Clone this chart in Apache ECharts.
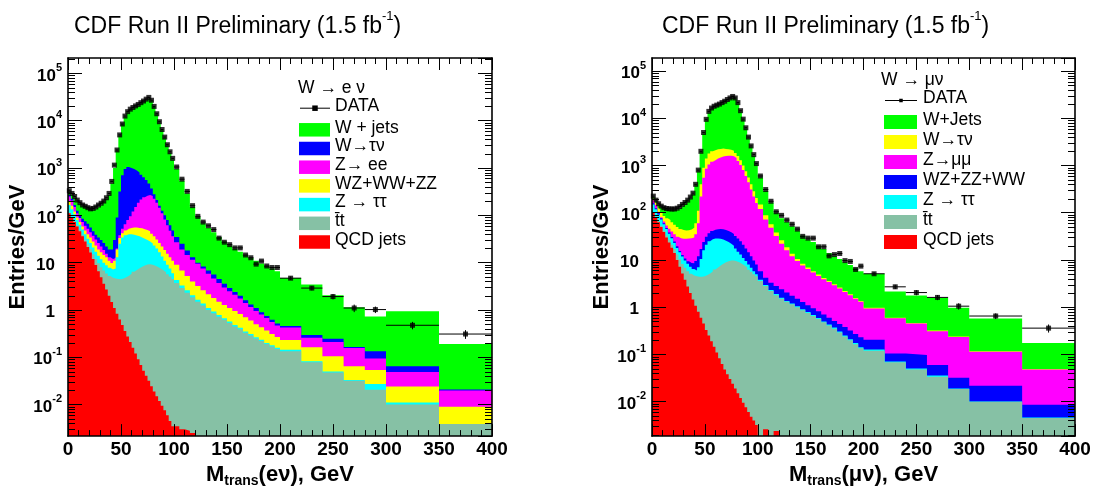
<!DOCTYPE html>
<html><head><meta charset="utf-8">
<script src="https://cdn.jsdelivr.net/npm/echarts@6/dist/echarts.min.js"></script>
<style>html,body{margin:0;padding:0;background:#fff}#c{width:1096px;height:493px}</style>
</head><body><div id="c"></div>
<script>
// ---------- bin edges (GeV), shared by both panels ----------
const binEdges = [0,2.5,5,7.5,10,12.5,15,17.5,20,22.5,25,27.5,30,32.5,35,37.5,40,42.5,45,47.5,50,52.5,55,57.5,60,62.5,65,67.5,70,72.5,75,77.5,80,82.5,85,87.5,90,92.5,95,97.5,100,
 105,110,115,120,125,130,135,140,145,150,155,160,165,170,175,180,185,190,195,200,220,240,260,280,300,350,400];
const xTicks = [0,50,100,150,200,250,300,350,400];

// ---------- W -> e nu panel: Entries/GeV per bin ----------
// MC arrays are stacked heights (each includes every process drawn beneath it)
const eData = [330,290,250,210,185,165,155,145,137,140,150,165,180,200,235,290,520,1150,2400,5000,8500,12500,15500,17500,19000,20500,22000,24000,26000,28500,31000,27000,20000,14000,9500,6500,4500,3100,2200,1600,
 1050,580,320,160,95,72,60,50,33,27,24,20.5,20.5,14.5,12.7,9.3,10.8,8.5,7.9,7.9, 4.7,2.9,1.92,1.1,1.02,0.475,0.31];
const eDataErr = [0.4,0.3,0.25,0.2,0.16,0.085,0.065]; // last 7 bins
const eWjets = [310,270,235,200,175,158,148,138,130,133,142,155,170,190,220,270,470,1000,2300,4800,8300,12000,15000,17000,18500,20000,21500,23500,25500,28000,30000,26500,19500,13500,9200,6300,4300,3000,2100,1500,
 950,540,290,150,92,68,54,44,35,28,23,19.5,17,14.5,12.5,11,9.6,8.5,7.5,6.6, 4.73,3.44,2.04,1.135,0.73,0.94,0.192];
const eWtaunu = [270,225,165,125,100,85,75,66,55,46,39,34,30,26,22,19,19,30,90,320,700,950,1050,1000,950,880,800,720,640,560,470,370,280,210,160,125,100,80,62,48,
 35,25,18,13,10,8.3,6.8,5.6,4.5,3.6,2.9,2.4,2.0,1.6,1.3,1.1,0.9,0.75,0.62,0.52, 0.46,0.295,0.248,0.165,0.134,0.065,0.021];
const eZee = [250,205,150,110,88,72,60,52,44,37,31,26,22,18.5,15.5,13,12,12.5,20,38,52,65,80,95,120,150,185,215,240,260,270,255,225,185,145,110,82,62,47,36,
 27,19,14.5,11.5,9.5,7.5,5.8,4.6,3.7,3.0,2.5,2.1,1.75,1.4,1.15,0.95,0.8,0.68,0.56,0.47, 0.425,0.26,0.211,0.157,0.094,0.049,0.02];
const eDiboson = [190,160,120,90,72,58,48,40,34,28,23,19,16.5,14.5,13,11,9.8,11,19,33,42,48,52,54,55,55,54,53,51,49,46,41,36,31,26,22,18.5,15.5,13,11,
 9,6.8,5.2,4.0,3.2,2.6,2.15,1.8,1.5,1.28,1.1,0.95,0.82,0.7,0.6,0.5,0.43,0.37,0.31,0.27, 0.233,0.164,0.105,0.065,0.054,0.0241,0.009];
const eZtautau = [165,135,105,80,63,50,40,32,26,21,17,14,11.8,10,8.8,7.8,7.2,7.5,13,25,34,38,40,40,39,37.5,36,34,32,30,28,25.5,23,20,16.5,13.5,11,9,7.5,6,
 4.3,3.3,2.6,2.05,1.65,1.37,1.1,0.93,0.78,0.67,0.57,0.48,0.42,0.35,0.31,0.265,0.235,0.2,0.18,0.16, 0.145,0.083,0.05,0.033,0.0273,0.0111,0.0039];
const eTtbar = [113,92,75,61,49,39,31,24.5,19.3,15,12,9.7,8.0,6.8,5.9,5.2,4.8,4.6,4.5,4.45,4.6,4.9,5.3,5.8,6.4,7.0,7.6,8.2,8.7,9.1,9.2,9.0,8.6,8.1,7.5,6.9,6.3,5.7,5.1,4.5,
 3.7,2.9,2.3,1.85,1.5,1.25,1.0,0.85,0.72,0.62,0.53,0.45,0.39,0.33,0.29,0.25,0.22,0.19,0.17,0.15, 0.134,0.079,0.048,0.032,0.0206,0.0101,0.0039];
const eQcd = [110,89,72,58,46,36,28,21.5,16.3,12,8.9,6.6,4.9,3.6,2.7,2.0,1.48,1.1,0.83,0.63,0.48,0.36,0.275,0.21,0.16,0.12,0.091,0.069,0.052,0.041,0.032,0.0245,0.019,0.015,0.012,0.0095,0.0076,0.006,0.0045,0.0035,
 0.0035,0.003,0.0028,0.0025,0,0,0,0,0,0,0,0,0,0,0,0,0,0,0,0, 0,0,0,0,0,0,0];

// ---------- W -> mu nu panel ----------
const mData = [225,185,155,138,128,123,121,120,120,125,135,150,165,185,215,260,400,800,2000,5000,9500,14000,16500,18000,19000,20000,21500,23000,25000,27000,29000,27000,21500,14500,9600,6300,4000,2600,1700,1100,
 600,310,175,105,88,70,57,45,31.6,29,29,19,19,12.2,13,13.7,9.7,9.3,6.3,7.4, 5.1,2.7,2.04,1.61,1.05,0.65,0.36];
const mDataErr = [0.4,0.28,0.25,0.2,0.16,0.09,0.07];
const mWjets = [215,178,148,132,122,117,115,114,114,118,127,140,155,175,200,245,380,760,1900,4700,9000,13300,15800,17300,18300,19300,20700,22200,24000,26000,28000,26000,20500,14000,9200,6000,3800,2500,1600,1050,
 560,290,165,100,76,64,52,42,33,27,24,20,17,14,12,10.5,9,7.8,6.7,5.8, 5.1,2.14,1.77,1.56,0.97,0.575,0.175];
const mWtaunu = [200,165,125,100,85,76,70,63,56,50,45,43,42,42.5,44,48,60,110,400,900,1400,1800,2000,2100,2200,2250,2280,2250,2200,2150,2050,1850,1600,1300,1000,760,560,400,285,205,
 150,88,57,38,26,18.5,13.5,10.5,8.3,6.9,5.8,4.9,4.15,3.6,3.05,2.6,2.2,1.88,1.56,1.35, 0.97,0.6,0.46,0.32,0.24,0.117,0.049];
const mZmumu = [185,145,105,80,65,54,46,40,35,31,29,28,28,28.5,29,30,35,60,220,550,850,1050,1200,1300,1400,1480,1550,1600,1620,1620,1580,1450,1250,1020,800,600,440,310,220,160,
 120,72,48,32,22,16,12,9.5,7.6,6.4,5.4,4.6,3.9,3.4,2.9,2.5,2.1,1.8,1.5,1.3, 0.94,0.58,0.45,0.31,0.233,0.114,0.048];
const mDiboson = [158,125,97,76,60,47.5,38,30.5,24.5,19.5,15.5,12.8,10.8,9.4,8.6,8.5,9.5,12,17,24,31,37,41,43.5,44.5,45,44.5,43,41,38.5,35.5,32,28.5,25,21,17.5,14.5,12,9.8,8,
 5.8,4.2,3.3,2.8,2.4,2.05,1.75,1.5,1.28,1.1,0.95,0.82,0.7,0.6,0.51,0.44,0.38,0.32,0.27,0.23, 0.205,0.105,0.097,0.06,0.032,0.0216,0.0086];
const mZtautau = [150,118,92,72,57,45,36,29,23,18,14.5,11.8,9.8,8.3,7.2,6.4,6.0,7.0,10.5,16,21,25,27.5,28.5,28.5,28,27,25.5,24,22,20,17.5,15,13,11,9.5,8,6.8,5.8,5.0,
 3.8,2.95,2.3,1.9,1.58,1.36,1.2,1.05,0.9,0.79,0.68,0.59,0.5,0.43,0.37,0.305,0.25,0.21,0.175,0.142, 0.127,0.071,0.05,0.0358,0.019,0.0101,0.0046];
const mTtbar = [103,82,66,53,42,33,26.5,21,17,13,10.2,8.2,6.8,5.8,5.1,4.7,4.5,4.4,4.4,4.5,4.8,5.2,5.7,6.3,6.9,7.6,8.3,8.9,9.4,9.7,9.7,9.4,8.9,8.3,7.6,6.9,6.2,5.6,5.0,4.5,
 3.6,2.8,2.2,1.8,1.5,1.3,1.15,1.0,0.86,0.75,0.65,0.56,0.48,0.41,0.35,0.29,0.24,0.2,0.165,0.135, 0.12,0.068,0.048,0.0336,0.0185,0.0099,0.0045];
const mQcd = [100,79,63,50,39,30,23.4,18.2,14.1,10,7.2,5.2,3.8,2.75,2.0,1.45,1.07,0.8,0.6,0.45,0.33,0.25,0.19,0.145,0.11,0.083,0.063,0.048,0.038,0.03,0.024,0.019,0.015,0.012,0.0095,0.0076,0.006,0.0048,0.004,0.0032,
 0,0.0026,0,0.0024,0,0,0,0,0,0,0,0,0,0,0,0,0,0,0,0, 0,0,0,0,0,0,0];

// ---------- legends ----------
const eLegend = ['W + jets','W\u2192\u03c4\u03bd','Z\u2192 ee','WZ+WW+ZZ','Z \u2192 \u03c4\u03c4','t\u0304t','QCD jets'];
const mLegend = ['W+Jets','W\u2192\u03c4\u03bd','Z\u2192\u03bc\u03bc','WZ+ZZ+WW','Z \u2192 \u03c4\u03c4','t\u0304t','QCD jets'];

const C = {green:'#00ff00', blue:'#0000ff', mag:'#ff00ff', yel:'#ffff00', cyan:'#00ffff', tt:'#86c1a5', red:'#ff0000'};
const FONT = '"Liberation Sans", Arial, Helvetica, sans-serif';

const panels = [
  {grid:{left:68, top:58, width:424, height:387}, ymin:Math.pow(10,-2.665), ymax:Math.pow(10,5.324),
   data:eData, err:eDataErr,
   stack:[[eWjets,C.green],[eWtaunu,C.blue],[eZee,C.mag],[eDiboson,C.yel],[eZtautau,C.cyan],[eTtbar,C.tt],[eQcd,C.red]],
   legend:eLegend, xname:'{m|M}{sub|trans}{m|(e\u03bd), GeV}'},
  {grid:{left:652, top:58, width:423, height:387}, ymin:Math.pow(10,-2.73), ymax:Math.pow(10,5.277),
   data:mData, err:mDataErr,
   stack:[[mWjets,C.green],[mWtaunu,C.yel],[mZmumu,C.mag],[mDiboson,C.blue],[mZtautau,C.cyan],[mTtbar,C.tt],[mQcd,C.red]],
   legend:mLegend, xname:'{m|M}{sub|trans}{m|(\u03bc\u03bd), GeV}'}
];

function hist(arr){
  const pts = [];
  for (let i = 0; i < arr.length; i++) pts.push([binEdges[i], arr[i] > 0 ? arr[i] : 1e-9]);
  const last = arr[arr.length-1];
  pts.push([binEdges[arr.length], last > 0 ? last : 1e-9]);
  return pts;
}

const minorVals = [];
for (let e = -3; e <= 5; e++) for (let k = 2; k <= 9; k++) minorVals.push(k*Math.pow(10,e));

const AXW = 1.6;
const grids=[], xAxes=[], yAxes=[], series=[];
panels.forEach((p, gi) => {
  grids.push(p.grid);
  const xb = {gridIndex:gi, type:'value', min:0, max:400, interval:50, z:10,
    axisLine:{show:true, onZero:false, lineStyle:{color:'#000', width:AXW}},
    axisTick:{show:true, inside:true, length:12, lineStyle:{color:'#000'}},
    minorTick:{show:true, splitNumber:5, length:6, lineStyle:{color:'#000'}},
    splitLine:{show:false},
    axisLabel:{show:true, margin:4, color:'#000', fontSize:19, fontWeight:'bold', fontFamily:FONT},
    name:p.xname, nameLocation:'middle', nameGap:21,
    nameTextStyle:{color:'#000', rich:{
      m:{fontSize:22, fontWeight:'bold', fontFamily:FONT, color:'#000', lineHeight:24, verticalAlign:'top'},
      sub:{fontSize:14, fontWeight:'bold', fontFamily:FONT, color:'#000', lineHeight:14, verticalAlign:'bottom'}}}};
  xAxes.push(xb);
  xAxes.push({gridIndex:gi, type:'value', position:'top', min:0, max:400, interval:50, z:10,
    axisLine:{show:true, onZero:false, lineStyle:{color:'#000', width:AXW}},
    axisTick:{show:true, inside:true, length:12, lineStyle:{color:'#000'}},
    minorTick:{show:true, splitNumber:5, length:6, lineStyle:{color:'#000'}},
    splitLine:{show:false}, axisLabel:{show:false}});
  yAxes.push({gridIndex:gi, type:'log', logBase:10, min:p.ymin, max:p.ymax, splitNumber:8, z:10,
    axisLine:{show:true, onZero:false, lineStyle:{color:'#000', width:AXW}},
    axisTick:{show:true, inside:true, length:14, lineStyle:{color:'#000'}},
    splitLine:{show:false},
    axisLabel:{show:true, margin:6, color:'#000', showMinLabel:false, showMaxLabel:false,
      formatter:(v)=>{ const l=Math.log10(v); const e=Math.round(l); if (Math.abs(l-e)>1e-4) return '';
        if (e===0) return '{b|1}{p|}'; if (e===1) return '{b|10}{p|}'; return '{b|10}{s|'+e+'}'; },
      rich:{ b:{fontSize:17, fontWeight:'bold', fontFamily:FONT, color:'#000', lineHeight:22, verticalAlign:'bottom'},
             s:{fontSize:11, fontWeight:'bold', fontFamily:FONT, color:'#000', lineHeight:11, verticalAlign:'top'},
             p:{width:7} }},
    name:'Entries/GeV', nameLocation:'middle', nameRotate:90, nameGap:36,
    nameTextStyle:{color:'#000', fontSize:22, fontWeight:'bold', fontFamily:FONT}});
  yAxes.push({gridIndex:gi, type:'log', logBase:10, min:p.ymin, max:p.ymax, splitNumber:8, position:'right', z:10,
    axisLine:{show:true, onZero:false, lineStyle:{color:'#000', width:AXW}},
    axisTick:{show:true, inside:true, length:14, lineStyle:{color:'#000'}},
    splitLine:{show:false}, axisLabel:{show:false}});

  const xi = gi*2, yi = gi*2;
  p.stack.forEach(([arr,col], si) => {
    series.push({type:'line', name:p.legend[si], xAxisIndex:xi, yAxisIndex:yi, step:'end', data:hist(arr),
      symbol:'none', silent:true, clip:true, z:2+si*0.01, animation:false,
      lineStyle:{width:0, opacity:0}, itemStyle:{color:col},
      areaStyle:{color:col, opacity:1, origin:'start'}});
  });
  // error bars
  const n = p.data.length, nErr = p.err.length;
  const eb = p.data.map((v,i)=>[binEdges[i], binEdges[i+1], v, i >= n-nErr ? p.err[i-(n-nErr)] : 0]);
  series.push({type:'custom', xAxisIndex:xi, yAxisIndex:yi, silent:true, z:5, animation:false,
    encode:{x:[0,1], y:2}, data:eb,
    renderItem:(params, api)=>{
      const lo=api.value(0), hi=api.value(1), v=api.value(2), er=api.value(3);
      const a=api.coord([lo,v]), b=api.coord([hi,v]);
      const kids=[{type:'line', shape:{x1:a[0], y1:a[1], x2:b[0], y2:b[1]}, style:{stroke:'#000', lineWidth:1}}];
      if (er>0){ const cx=(lo+hi)/2; const t=api.coord([cx,v+er]), u=api.coord([cx,v-er]);
        kids.push({type:'line', shape:{x1:t[0], y1:t[1], x2:u[0], y2:u[1]}, style:{stroke:'#000', lineWidth:1}}); }
      return {type:'group', children:kids};
    }});
  series.push({type:'scatter', name:'DATA', xAxisIndex:xi, yAxisIndex:yi, silent:true, z:6, animation:false,
    symbol:'rect', symbolSize:5, itemStyle:{color:'#000'},
    data:p.data.map((v,i)=>[(binEdges[i]+binEdges[i+1])/2, v])});
  // log minor ticks (2..9 x 10^k) on left and right frame
  series.push({type:'custom', xAxisIndex:xi, yAxisIndex:yi, silent:true, z:11, animation:false,
    encode:{x:0, y:1},
    data:minorVals.filter(v=>v>p.ymin && v<p.ymax).map(v=>[0,v]),
    renderItem:(params, api)=>{
      const v=api.value(1); const a=api.coord([0,v]), b=api.coord([400,v]);
      const y=Math.round(a[1])+0.5;
      return {type:'group', children:[
        {type:'line', shape:{x1:a[0], y1:y, x2:a[0]+7, y2:y}, style:{stroke:'#000', lineWidth:1}},
        {type:'line', shape:{x1:b[0]-7, y1:y, x2:b[0], y2:y}, style:{stroke:'#000', lineWidth:1}}]};
    }});
});

// legend drawn as graphic elements
const graphics = [];
function legendBlock(header, hx, hy, dataY, lineX0, lineX1, mk, boxX, boxW, boxH, y0, dy, textX, labels, cols){
  graphics.push({type:'text', left:hx, top:hy-11, z:100, style:{text:header, font:'17.5px '+FONT, fill:'#000'}});
  graphics.push({type:'line', z:100, shape:{x1:lineX0, y1:dataY+0.5, x2:lineX1, y2:dataY+0.5}, style:{stroke:'#000', lineWidth:1}});
  const cx=(lineX0+lineX1)/2;
  graphics.push({type:'rect', z:100, shape:{x:cx-mk/2, y:dataY+0.5-mk/2, width:mk, height:mk}, style:{fill:'#000'}});
  graphics.push({type:'text', left:textX, top:dataY-11, z:100, style:{text:'DATA', font:'17.5px '+FONT, fill:'#000'}});
  labels.forEach((t,i)=>{
    const yc = y0 + i*dy;
    graphics.push({type:'rect', z:100, shape:{x:boxX, y:yc-boxH/2, width:boxW, height:boxH}, style:{fill:cols[i]}});
    graphics.push({type:'text', left:textX, top:yc-11, z:100, style:{text:t, font:'17.5px '+FONT, fill:'#000'}});
  });
}
legendBlock('W \u2192 e \u03bd', 298, 90, 107.7, 300, 330, 5.5, 299, 31, 13.5, 129.8, 18.7, 335, eLegend, panels[0].stack.map(s=>s[1]));
legendBlock('W \u2192 \u03bc\u03bd', 881, 81.7, 100, 885, 917, 3.5, 884, 33, 14, 122, 20, 923, mLegend, panels[1].stack.map(s=>s[1]));

const titleRich = {
  a:{fontSize:23, fontWeight:'normal', fontFamily:FONT, color:'#000', lineHeight:28, verticalAlign:'bottom'},
  s:{fontSize:13, fontWeight:'normal', fontFamily:FONT, color:'#000', lineHeight:14, verticalAlign:'top'}};

const option = {
  animation:false, backgroundColor:'#fff',
  title:[
    {text:'{a|CDF Run II Preliminary (1.5 fb}{s|-1}{a|)}', left:69, top:5, textStyle:{fontWeight:'normal', rich:titleRich}},
    {text:'{a|CDF Run II Preliminary (1.5 fb}{s|-1}{a|)}', left:657, top:5, textStyle:{fontWeight:'normal', rich:titleRich}}
  ],
  grid:grids, xAxis:xAxes, yAxis:yAxes, series:series, graphic:graphics
};
const chart = echarts.init(document.getElementById('c'), null, {renderer:'canvas'});
chart.setOption(option);
</script></body></html>
